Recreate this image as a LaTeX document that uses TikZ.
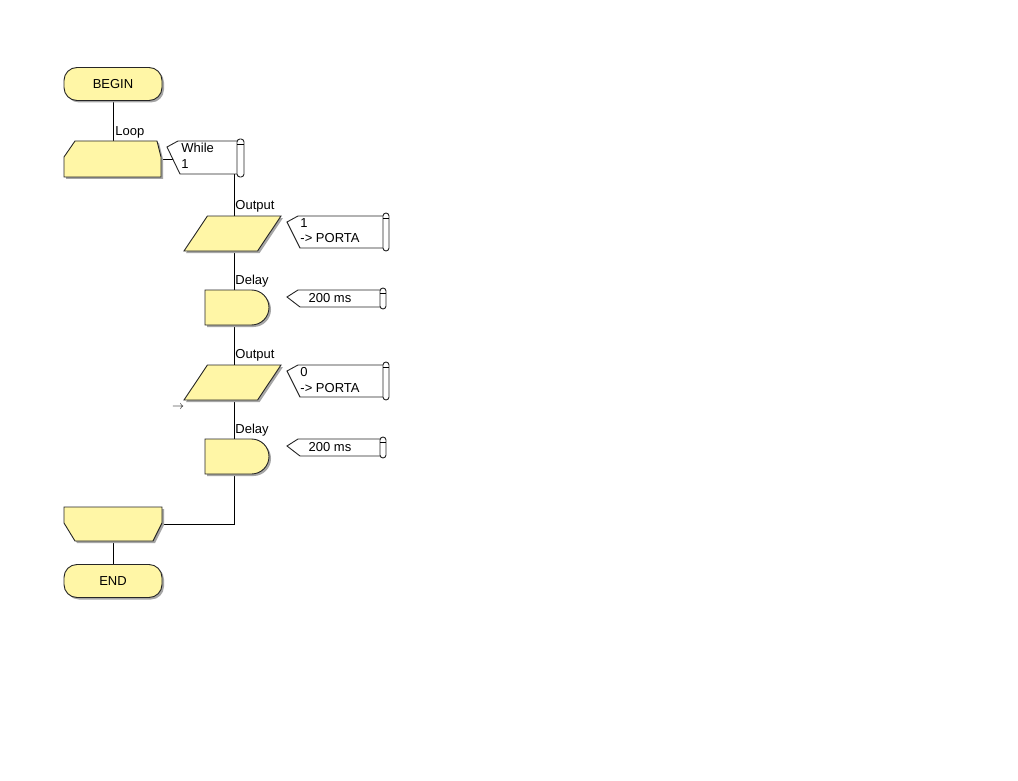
\documentclass[tikz,border=0pt]{standalone}
\usepackage{fontspec}
\setmainfont{Liberation Sans}
\usetikzlibrary{shapes,backgrounds,calc}
\definecolor{boxfill}{HTML}{FFF6A6}
\definecolor{shade}{HTML}{A6A6A6}

\begin{document}
\begin{tikzpicture}[x=1pt, y=-1pt, line width=0.9pt,
    every node/.style={font=\fontsize{13}{15.5}\selectfont},
    flat/.style={draw=black!85, fill=boxfill,
      preaction={fill=shade, transform canvas={xshift=2pt, yshift=-2pt}}},
    term/.style={flat, rounded corners=13pt, minimum width=98pt, minimum height=33pt},
    outbox/.style={flat, trapezium, trapezium left angle=65, trapezium right angle=115,
      trapezium stretches=true, minimum width=97pt, minimum height=35pt, inner sep=2pt},
    delaybox/.style={flat, rounded rectangle, rounded rectangle left arc=none,
      minimum width=68pt, minimum height=35pt, inner sep=2pt},
    slot/.style={minimum width=98pt, minimum height=35pt, inner sep=0pt},
    flag/.style={draw=black!85, fill=white},
    lbl/.style={anchor=west, inner sep=0pt},
    note/.style={anchor=north west, align=left, inner sep=0pt}]
    % Begin and loop start
    \node[term] (begin) at (113,84) {BEGIN};
    \node[slot] (loopS) at (113,159) {};
    \path[flat] (75,141) -- (157,141) -- (161,157) -- (161,177) -- (64,177) -- (64,157) -- cycle;
    \node[lbl] (looplbl) at (115,132) {Loop};
    % While comment
    \path[flag] (178,141) -- (167,147) -- (180,174) -- (238,174) -- (238,141) -- cycle;
    \draw[flag, rounded corners=3pt] (237,139) rectangle (244,177);
    \draw (237,144) -- (244,144);
    \node[note] (cwhile) at (181,143) {While\\1};
    \coordinate (wtip) at (173,159);
    \coordinate (body) at (234,174);
    % First output and delay
    \node[outbox] (out1) at (232.5,233.5) {};
    \node[lbl] (out1lbl) at (235,206) {Output};
    \path[flag] (298,216) -- (287,222) -- (300,248) -- (384,248) -- (384,216) -- cycle;
    \draw[flag, rounded corners=3pt] (383,213) rectangle (389,251);
    \draw (383,218) -- (389,218);
    \node[note] (cout1) at (300,218) {1\\-> PORTA};
    \node[delaybox] (del1) at (237,307.5) {};
    \node[lbl] (del1lbl) at (235,281) {Delay};
    \path[flag] (298,290) -- (287,297) -- (300,307) -- (381,307) -- (381,290) -- cycle;
    \draw[flag, rounded corners=3pt] (380,288) rectangle (386,309);
    \draw (380,293) -- (386,293);
    \node (cdel1) at (330,298.5) {200 ms};
    % Second output and delay
    \node[outbox] (out2) at (232.5,382.5) {};
    \node[lbl] (out2lbl) at (235,355) {Output};
    \path[flag] (298,365) -- (287,371) -- (300,397) -- (384,397) -- (384,365) -- cycle;
    \draw[flag, rounded corners=3pt] (383,362) rectangle (389,400);
    \draw (383,367) -- (389,367);
    \node[note] (cout2) at (300,367) {0\\-> PORTA};
    \node (mark) at (178,407) {$\rightarrow$};
    \node[delaybox] (del2) at (237,456.5) {};
    \node[lbl] (del2lbl) at (235,430) {Delay};
    \path[flag] (298,439) -- (287,446) -- (300,456) -- (381,456) -- (381,439) -- cycle;
    \draw[flag, rounded corners=3pt] (380,437) rectangle (386,458);
    \draw (380,442) -- (386,442);
    \node (cdel2) at (330,447.5) {200 ms};
    % Loop end and end
    \node[slot] (loopE) at (113,524) {};
    \path[flat] (64,507) -- (162,507) -- (162,523) -- (153,541) -- (75,541) -- (64,523) -- cycle;
    \node[term] (end) at (113,581) {END};
    % Page and connectors
    \begin{scope}[on background layer]
        \fill[white] (0,0) rectangle (1018,781);
        \draw (begin.south) -- (loopS.north);
        \draw (loopS.east) -- (wtip);
        \draw (body) |- (loopE.east);
        \draw (loopE.south) -- (end.north);
    \end{scope}
\end{tikzpicture}
\end{document}
